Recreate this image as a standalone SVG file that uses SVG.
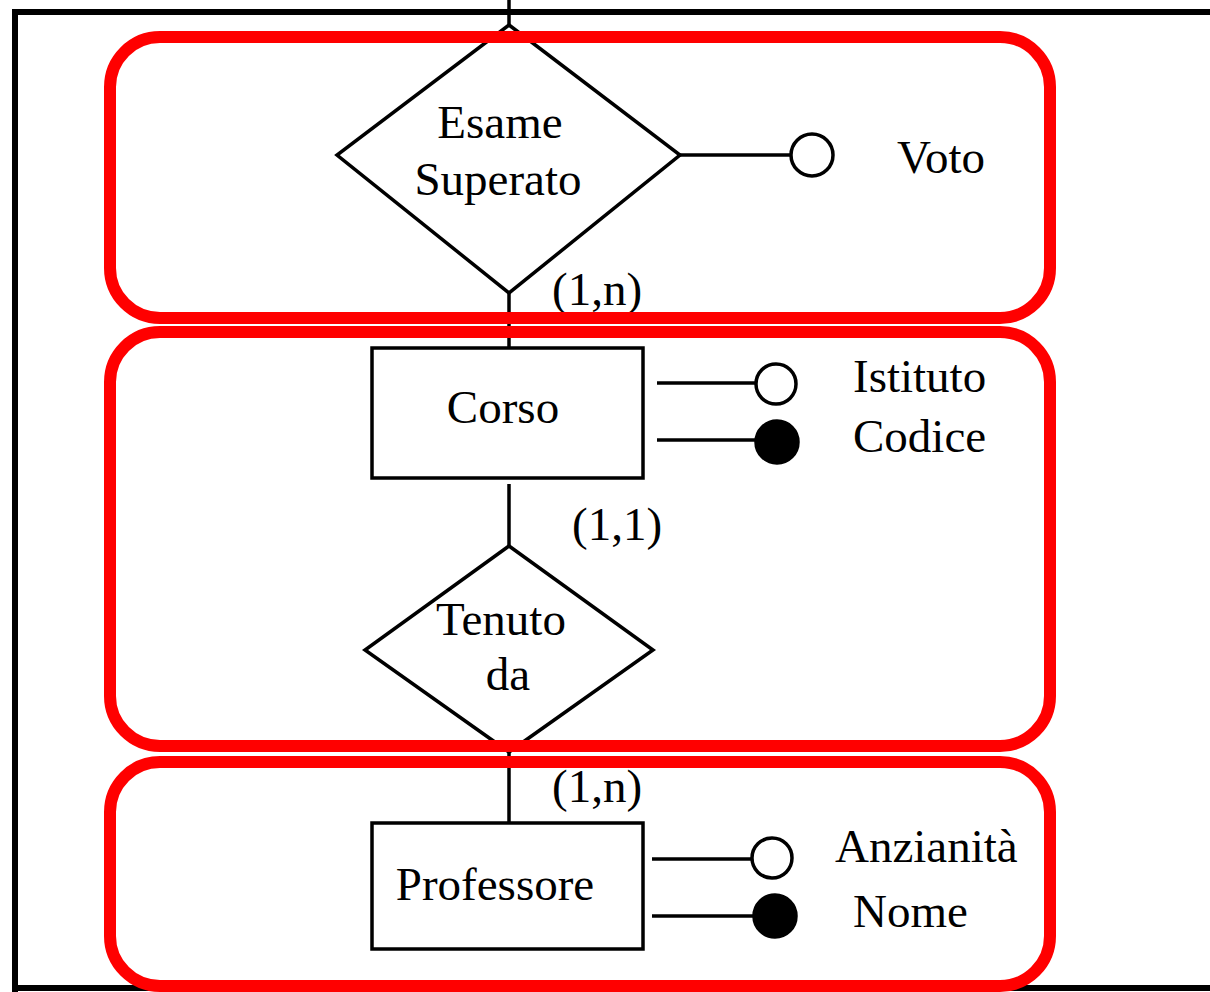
<svg xmlns="http://www.w3.org/2000/svg" width="1210" height="992" viewBox="0 0 1210 992">
<style>
.t{font-family:"Liberation Serif","Times New Roman",serif;font-size:47px;fill:#000}
.sh{fill:#fff;stroke:#000;stroke-width:3.5}
.ln{stroke:#000;stroke-width:3.5;fill:none}
.red{fill:none;stroke:#ff0000;stroke-width:12}
.ao{fill:#fff;stroke:#000;stroke-width:3.5}
.af{fill:#000;stroke:#000;stroke-width:3.5}
</style>
<rect width="1210" height="992" fill="#fff"/>
<g id="frame">
<path d="M1210 12 H15 V992" fill="none" stroke="#000" stroke-width="6"/>
<path d="M12 988 H1210" stroke="#000" stroke-width="6"/>
</g>
<g id="connectors">
<line class="ln" x1="509" y1="0" x2="509" y2="25"/>
<line class="ln" x1="509" y1="293" x2="509" y2="348"/>
<line class="ln" x1="509" y1="484" x2="509" y2="546"/>
<line class="ln" x1="509" y1="752" x2="509" y2="823"/>
<line class="ln" x1="680" y1="155" x2="791" y2="155"/>
<line class="ln" x1="657" y1="383" x2="756" y2="383"/>
<line class="ln" x1="657" y1="440" x2="756" y2="440"/>
<line class="ln" x1="652" y1="859" x2="752" y2="859"/>
<line class="ln" x1="652" y1="916" x2="754" y2="916"/>
</g>
<g id="esame-superato">
<polygon class="sh" points="509,25 680,155 509,293 337,155"/>
<text class="t" x="500" y="138" text-anchor="middle">Esame</text>
<text class="t" x="498" y="195" text-anchor="middle">Superato</text>
</g>
<g id="attr-voto">
<circle class="ao" cx="812" cy="155" r="21"/>
<text class="t" x="897" y="173">Voto</text>
</g>
<g id="card1"><text class="t" x="552" y="305">(1,n)</text></g>
<g id="corso">
<rect class="sh" x="372" y="348" width="271" height="130"/>
<text class="t" x="503" y="423" text-anchor="middle">Corso</text>
</g>
<g id="attr-istituto">
<circle class="ao" cx="776" cy="384" r="20"/>
<text class="t" x="853" y="392">Istituto</text>
</g>
<g id="attr-codice">
<circle class="af" cx="777" cy="442" r="21"/>
<text class="t" x="853" y="452">Codice</text>
</g>
<g id="card2"><text class="t" x="572" y="540">(1,1)</text></g>
<g id="tenuto-da">
<polygon class="sh" points="509,546 653,650 509,752 365,650"/>
<text class="t" x="501" y="635" text-anchor="middle">Tenuto</text>
<text class="t" x="508" y="690" text-anchor="middle">da</text>
</g>
<g id="card3"><text class="t" x="552" y="802">(1,n)</text></g>
<g id="professore">
<rect class="sh" x="372" y="823" width="271" height="126"/>
<text class="t" x="495" y="900" text-anchor="middle">Professore</text>
</g>
<g id="attr-anzianita">
<circle class="ao" cx="772" cy="858" r="20"/>
<text class="t" x="835" y="862">Anzianità</text>
</g>
<g id="attr-nome">
<circle class="af" cx="775" cy="916" r="21"/>
<text class="t" x="853" y="927">Nome</text>
</g>
<g id="highlights">
<rect class="red" x="110" y="37" width="940" height="281" rx="50"/>
<rect class="red" x="110" y="332" width="940" height="414" rx="50"/>
<rect class="red" x="110" y="762" width="940" height="224" rx="50"/>
</g>
</svg>
